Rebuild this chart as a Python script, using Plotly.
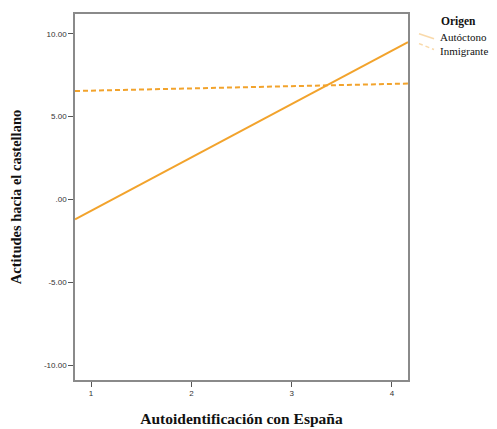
import plotly.graph_objects as go

# Data (fitted lines, end points at the axis limits)
x_points = [0.84, 4.16]
autoctono = [-1.2, 9.5]
inmigrante = [6.55, 7.0]

series_names = ["Autóctono", "Inmigrante"]
legend_title = "Origen"
x_tickvals = [1, 2, 3, 4]
x_ticktext = ["1", "2", "3", "4"]
y_tickvals = [10, 5, 0, -5, -10]
y_ticktext = ["10.00", "5.00", ".00", "-5.00", "-10.00"]

orange = "#F2A32C"
axis_col = "#8a8a8a"
serif = "Liberation Serif, Times New Roman, serif"
sans = "Liberation Sans, Arial, sans-serif"

fig = go.Figure()
fig.add_trace(go.Scatter(x=x_points, y=autoctono, mode="lines", name=series_names[0],
                         line=dict(color=orange, width=2), showlegend=False, hoverinfo="skip"))
fig.add_trace(go.Scatter(x=x_points, y=inmigrante, mode="lines", name=series_names[1],
                         line=dict(color=orange, width=2, dash="5px,3px"), showlegend=False, hoverinfo="skip"))

fig.update_layout(
    width=489, height=421,
    margin=dict(l=67, r=89, t=4, b=46),
    paper_bgcolor="white", plot_bgcolor="white",
    showlegend=False,
    xaxis=dict(range=[0.84, 4.16], tickvals=x_tickvals, ticktext=x_ticktext,
               showgrid=False, zeroline=False, showline=True, linecolor=axis_col, linewidth=1.5,
               mirror=True, ticks="outside", ticklen=5, tickcolor="#555", tickwidth=1,
               tickfont=dict(family=sans, size=8, color="#333"),
               title=dict(text="<b>Autoidentificación con España</b>", standoff=16,
                          font=dict(family=serif, size=15.5, color="#111"))),
    yaxis=dict(range=[-10.9, 11.2], tickvals=y_tickvals, ticktext=y_ticktext,
               showgrid=False, zeroline=False, showline=True, linecolor=axis_col, linewidth=1.5,
               mirror=True, ticks="outside", ticklen=5, tickcolor="#555", tickwidth=1,
               tickfont=dict(family=sans, size=8, color="#333"),
               title=dict(text="<b>Actitudes hacia el castellano</b>", standoff=20,
                          font=dict(family=serif, size=14.5, color="#111"))),
)

# Legend drawn manually (title, swatches, labels); positions are in screen pixels
# (plot area spans x 75..408, y 12..383 on the page) converted to paper coords
def px(xp):
    return (xp - 75) / 333

def py(yp):
    return 1 - (yp - 12) / 371

fig.add_annotation(xref="paper", yref="paper", x=px(439), y=py(20),
                   xanchor="left", yanchor="middle", showarrow=False,
                   text="<b>" + legend_title + "</b>", font=dict(family=serif, size=11.5, color="#111"))
label_rows = [35, 49]
swatch_rows = [(32, 37), (42, 48)]
for i, nm in enumerate(series_names):
    fig.add_annotation(xref="paper", yref="paper", x=px(438), y=py(label_rows[i]),
                       xanchor="left", yanchor="middle", showarrow=False,
                       text=nm, font=dict(family=serif, size=11, color="#111"))
    fig.add_shape(type="line", xref="paper", yref="paper",
                  x0=px(419), x1=px(434),
                  y0=py(swatch_rows[i][0]), y1=py(swatch_rows[i][1]),
                  line=dict(color=orange, width=1.5, dash="solid" if i == 0 else "4px,3px"),
                  opacity=0.4)

fig.write_html("out.html", config={"displayModeBar": False})
